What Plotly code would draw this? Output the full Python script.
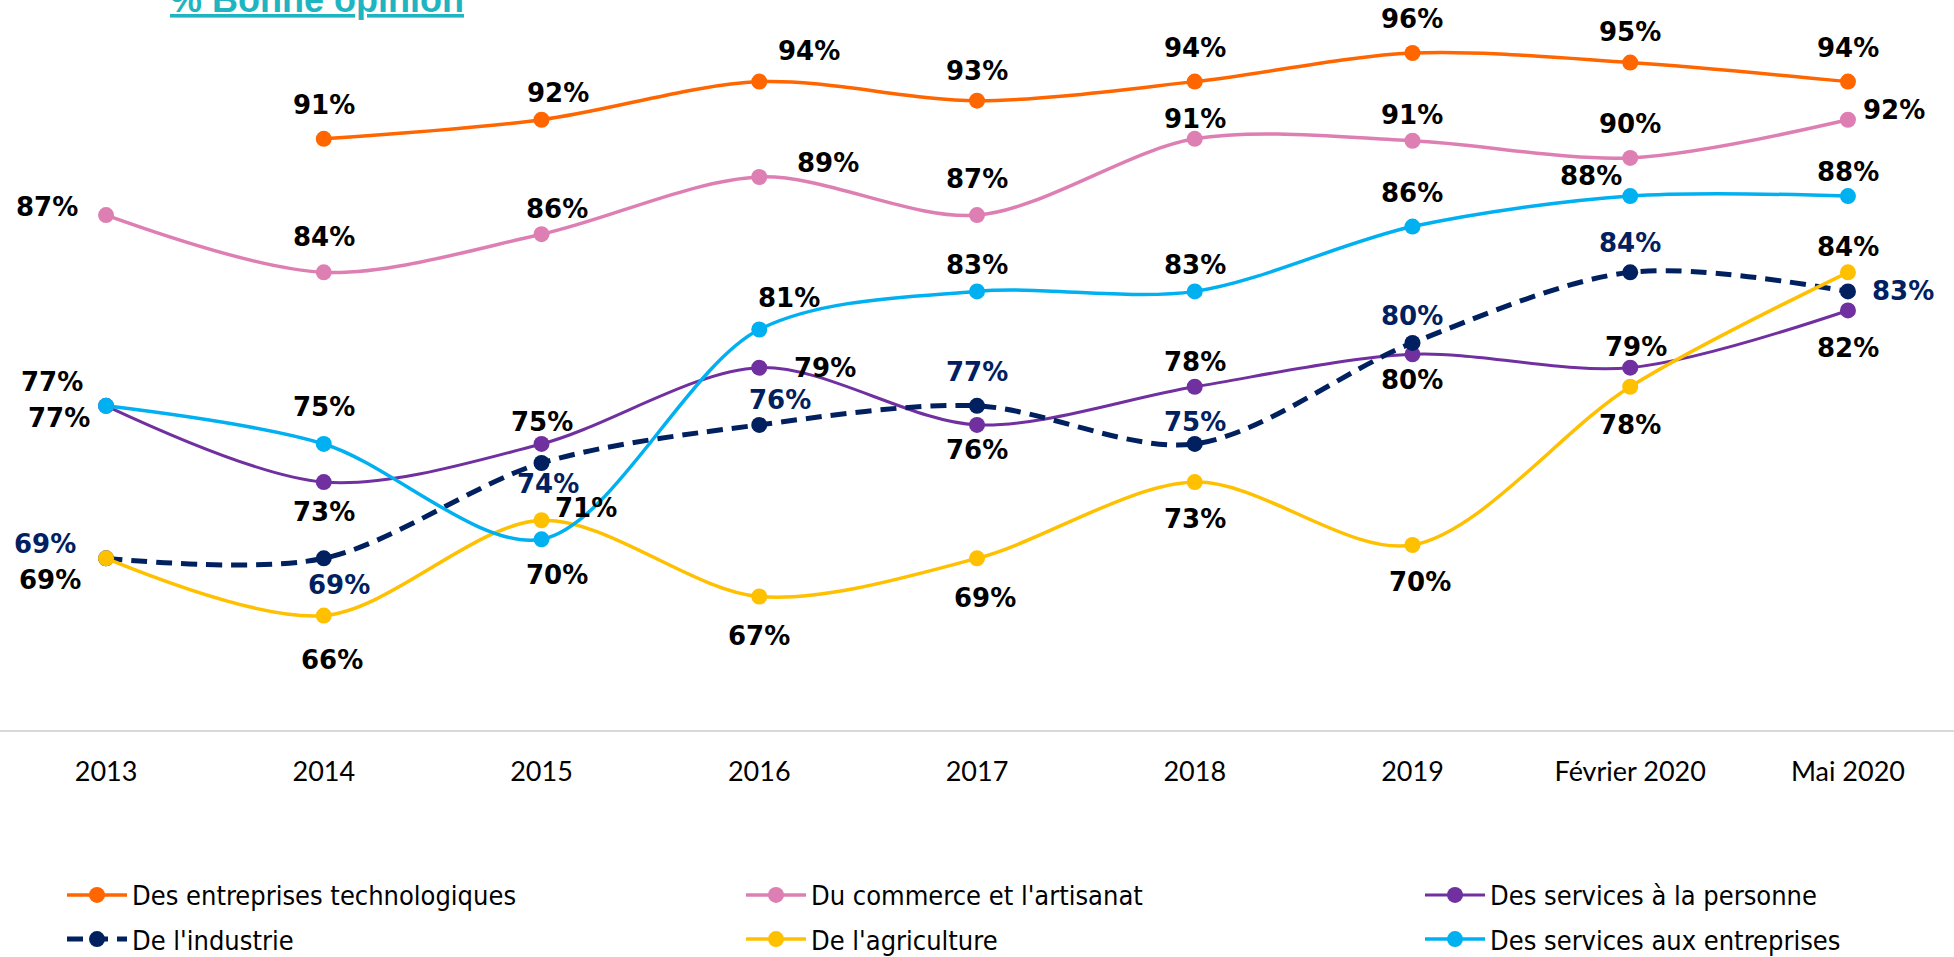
import plotly.graph_objects as go

categories = ["2013", "2014", "2015", "2016", "2017", "2018", "2019", "Février 2020", "Mai 2020"]

tech = [None, 91, 92, 94, 93, 94, 95.5, 95, 94]
commerce = [87, 84, 86, 89, 87, 91, 90.9, 90, 92]
personne = [77, 73, 75, 79, 76, 78, 79.7, 79, 82]
industrie = [69, 69, 74, 76, 77, 75, 80.3, 84, 83]
agriculture = [69, 66, 71, 67, 69, 73, 69.7, 78, 84]
entreprises = [77, 75, 70, 81, 83, 83, 86.4, 88, 88]

names = ["Des entreprises technologiques", "Du commerce et l'artisanat", "Des services à la personne",
         "De l'industrie", "De l'agriculture", "Des services aux entreprises"]

# style: colours, legend slot, label colour, label offsets (px, screen: +x right, +y down)
styles = [
    dict(color="#FF6600", legend="legend", dash="solid", width=3.5, lab="#000000",
         off=[None, (0, -34), (16, -27), (50, -31), (0, -30), (0, -34), (0, -34), (0, -31), (0, -34)]),
    dict(color="#DE7FB3", legend="legend2", dash="solid", width=3.5, lab="#000000",
         off=[(-59, -8), (0, -35), (15, -25), (69, -14), (0, -36), (0, -20), (0, -26), (0, -34), (46, -10)]),
    dict(color="#7030A0", legend="legend3", dash="solid", width=3, lab="#000000",
         off=[(-47, 12), (0, 30), (0, -22), (66, 0), (0, 25), (0, -25), (0, 26), (6, -21), (0, 38)]),
    dict(color="#002060", legend="legend", dash="16px,9px", width=5, lab="#002060",
         off=[(-61, -14), (15, 27), (6, 21), (21, -25), (0, -34), (0, -22), (0, -27), (0, -29), (55, 0)]),
    dict(color="#FFC000", legend="legend2", dash="solid", width=3.5, lab="#000000",
         off=[(-56, 22), (8, 44), (44, -12), (0, 39), (8, 40), (0, 37), (8, 37), (0, 38), (0, -25)]),
    dict(color="#00B0F0", legend="legend3", dash="solid", width=3.5, lab="#000000",
         off=[(-54, -24), (0, -37), (15, 36), (30, -32), (0, -26), (0, -26), (0, -34), (-39, -20), (0, -24)]),
]

series = [tech, commerce, personne, industrie, agriculture, entreprises]

fig = go.Figure()
annotations = []
for i, (name, vals, st) in enumerate(zip(names, series, styles)):
    fig.add_trace(go.Scatter(
        x=categories, y=vals, name=name, mode="lines+markers",
        line=dict(color=st["color"], width=st["width"], dash=st["dash"], shape="spline", smoothing=0.9),
        marker=dict(color=st["color"], size=16),
        legend=st["legend"], legendgroup=name, hoverinfo="skip",
    ))
    for k, (v, o) in enumerate(zip(vals, st["off"])):
        if v is None or o is None:
            continue
        annotations.append(dict(
            x=k, y=v, xref="x", yref="y", text=f"{int(v + 0.5)}%", showarrow=False,
            xshift=o[0], yshift=-o[1],
            font=dict(family="DejaVu Sans", size=26, color=st["lab"], weight="bold"),
        ))

annotations.append(dict(
    x=168 / 1954, y=1, xref="paper", yref="paper", xanchor="left", yanchor="middle",
    yshift=1, showarrow=False, text="<u><b>% Bonne opinion</b></u>",
    font=dict(family="Liberation Sans", size=36, color="#1FB5C0"),
))

legend_font = dict(family="DejaVu Sans Condensed, Liberation Sans", size=27, color="#000000")
leg_common = dict(orientation="v", yanchor="top", xanchor="left", y=-0.193, font=legend_font,
                  bgcolor="rgba(0,0,0,0)", tracegroupgap=6, traceorder="grouped", itemwidth=60)

fig.update_layout(
    width=1954, height=957,
    margin=dict(l=0, r=0, t=0, b=227, autoexpand=False),
    paper_bgcolor="white", plot_bgcolor="white",
    showlegend=True,
    legend=dict(x=62 / 1954, **leg_common),
    legend2=dict(x=741 / 1954, **leg_common),
    legend3=dict(x=1420 / 1954, **leg_common),
    annotations=annotations,
    xaxis=dict(type="category", range=[-0.487, 8.487], showgrid=False, zeroline=False,
               showline=True, linecolor="#D9D9D9", linewidth=2,
               ticks="outside", ticklen=17, tickcolor="rgba(0,0,0,0)",
               tickfont=dict(family="Lato", size=27, color="#000000")),
    yaxis=dict(range=[60, 98.28], visible=False, showgrid=False, zeroline=False),
)

fig.write_html("out.html", config={"displayModeBar": False},
               post_script="document.body.style.margin='0';document.body.style.overflow='hidden';")
